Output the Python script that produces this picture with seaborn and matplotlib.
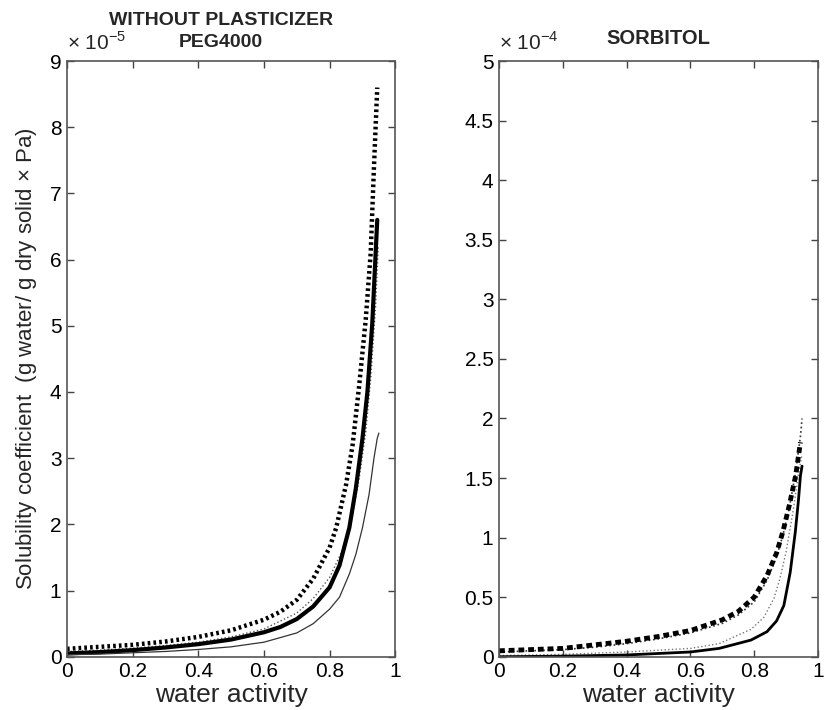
import matplotlib
matplotlib.use("Agg")
import matplotlib.pyplot as plt
import seaborn as sns
import pandas as pd

# ---- left panel: without plasticizer / PEG4000 (units of 1e-5) ----
peg_thick_dot_x = [0, 0.1, 0.2, 0.3, 0.4, 0.5, 0.6, 0.65, 0.7, 0.75, 0.8, 0.82, 0.85, 0.87, 0.89, 0.91, 0.925, 0.935, 0.945]
peg_thick_dot_y = [0.12, 0.15, 0.18, 0.23, 0.30, 0.40, 0.56, 0.68, 0.86, 1.18, 1.65, 1.95, 2.6, 3.2, 4.1, 5.1, 6.1, 7.4, 8.6]

peg_thin_dot_x = [0, 0.1, 0.2, 0.3, 0.4, 0.5, 0.6, 0.7, 0.75, 0.8, 0.84, 0.87, 0.89, 0.91, 0.925, 0.94, 0.948]
peg_thin_dot_y = [0.08, 0.10, 0.13, 0.17, 0.22, 0.30, 0.42, 0.66, 0.88, 1.2, 1.62, 2.15, 2.7, 3.4, 4.2, 5.3, 6.2]

peg_thick_x = [0, 0.1, 0.2, 0.3, 0.4, 0.5, 0.6, 0.65, 0.7, 0.75, 0.8, 0.83, 0.86, 0.88, 0.9, 0.915, 0.93, 0.945]
peg_thick_y = [0.05, 0.07, 0.10, 0.14, 0.19, 0.26, 0.37, 0.45, 0.57, 0.76, 1.05, 1.38, 1.95, 2.55, 3.3, 4.0, 5.05, 6.6]

peg_thin_x = [0, 0.1, 0.2, 0.3, 0.4, 0.5, 0.6, 0.7, 0.75, 0.8, 0.83, 0.86, 0.88, 0.9, 0.92, 0.935, 0.945, 0.95]
peg_thin_y = [0.03, 0.04, 0.06, 0.08, 0.11, 0.15, 0.22, 0.36, 0.50, 0.72, 0.9, 1.25, 1.55, 1.95, 2.45, 3.0, 3.3, 3.38]

# ---- right panel: sorbitol (units of 1e-4) ----
sorb_dash_x = [0, 0.1, 0.2, 0.3, 0.4, 0.5, 0.6, 0.7, 0.75, 0.8, 0.84, 0.87, 0.89, 0.91, 0.93, 0.945]
sorb_dash_y = [0.05, 0.06, 0.07, 0.10, 0.13, 0.17, 0.22, 0.31, 0.38, 0.50, 0.68, 0.87, 1.05, 1.27, 1.52, 1.8]

sorb_dot_x = [0, 0.1, 0.2, 0.3, 0.4, 0.5, 0.6, 0.7, 0.75, 0.8, 0.84, 0.87, 0.89, 0.91, 0.93, 0.945, 0.95]
sorb_dot_y = [0.04, 0.05, 0.06, 0.08, 0.11, 0.15, 0.20, 0.28, 0.35, 0.46, 0.64, 0.84, 1.02, 1.25, 1.55, 1.85, 2.0]

sorb_grey_x = [0, 0.2, 0.4, 0.6, 0.69, 0.79, 0.83, 0.862, 0.88, 0.9, 0.923, 0.94, 0.95]
sorb_grey_y = [0.01, 0.02, 0.04, 0.07, 0.11, 0.23, 0.33, 0.49, 0.65, 0.88, 1.24, 1.55, 1.7]

sorb_solid_x = [0, 0.2, 0.4, 0.6, 0.69, 0.79, 0.84, 0.87, 0.893, 0.913, 0.929, 0.939, 0.945, 0.95]
sorb_solid_y = [0.0, 0.005, 0.015, 0.04, 0.07, 0.14, 0.21, 0.30, 0.43, 0.71, 1.05, 1.32, 1.52, 1.6]

sns.set_style("ticks")
plt.rcParams["font.family"] = ["Liberation Sans", "DejaVu Sans"]
plt.rcParams["mathtext.fontset"] = "custom"
plt.rcParams["mathtext.rm"] = "Liberation Sans"

fig = plt.figure(figsize=(8.27, 7.10), dpi=100)
ax1 = fig.add_axes([0.081, 0.075, 0.397, 0.839])
ax2 = fig.add_axes([0.6034, 0.075, 0.3857, 0.839])


def draw(ax, xs, ys, ls, lw, col):
    df = pd.DataFrame({"aw": xs, "s": ys})
    sns.lineplot(data=df, x="aw", y="s", ax=ax, color=col, linewidth=lw,
                 linestyle=ls, estimator=None, sort=False)


draw(ax1, peg_thick_dot_x, peg_thick_dot_y, (0, (0.6, 0.7)), 3.2, "black")
draw(ax1, peg_thin_dot_x, peg_thin_dot_y, ":", 1.0, "#555555")
draw(ax1, peg_thick_x, peg_thick_y, "-", 3.0, "black")
draw(ax1, peg_thin_x, peg_thin_y, "-", 0.9, "#333333")

draw(ax2, sorb_dot_x, sorb_dot_y, ":", 1.2, "#333333")
draw(ax2, sorb_grey_x, sorb_grey_y, ":", 1.0, "#777777")
draw(ax2, sorb_solid_x, sorb_solid_y, "-", 2.0, "black")
draw(ax2, sorb_dash_x, sorb_dash_y, (0, (1.2, 0.8)), 3.5, "black")

ax1.set_xlim(0, 1)
ax1.set_ylim(0, 9)
ax1.set_yticks(range(0, 10))
ax2.set_xlim(0, 1)
ax2.set_ylim(0, 5)
ax2.set_yticks([0, 0.5, 1, 1.5, 2, 2.5, 3, 3.5, 4, 4.5, 5])
ax2.set_yticklabels(["0", "0.5", "1", "1.5", "2", "2.5", "3", "3.5", "4", "4.5", "5"])

for ax in (ax1, ax2):
    ax.set_xticks([0, 0.2, 0.4, 0.6, 0.8, 1])
    ax.set_xticklabels(["0", "0.2", "0.4", "0.6", "0.8", "1"])
    ax.tick_params(direction="in", length=5, width=1, top=True, right=True,
                   labelsize=15, pad=4, colors="#444444", labelcolor="black")
    for sp in ax.spines.values():
        sp.set_visible(True)
        sp.set_color("#555555")
        sp.set_linewidth(1.2)
    ax.set_xlabel("water activity", fontsize=19, labelpad=1)
    ax.set_ylabel("")

ax1.set_ylabel("Solubility coefficient  (g water/ g dry solid $\\times$ Pa)", fontsize=16, labelpad=8)

# two-line title written as two texts so the first line sits above the exponent label
ax1.text(0.47, 1.054, "WITHOUT PLASTICIZER", transform=ax1.transAxes, fontsize=14,
         fontweight="bold", ha="center", va="bottom")
ax1.set_title("PEG4000", fontsize=14, fontweight="bold", pad=10, x=0.47)
ax2.set_title("SORBITOL", fontsize=14.5, fontweight="bold", pad=12)

ax1.text(0.0, 1.012, "$\\times$ 10$^{-5}$", transform=ax1.transAxes, fontsize=15, ha="left", va="bottom")
ax2.text(0.0, 1.012, "$\\times$ 10$^{-4}$", transform=ax2.transAxes, fontsize=15, ha="left", va="bottom")

fig.savefig("out.png", dpi=100)
